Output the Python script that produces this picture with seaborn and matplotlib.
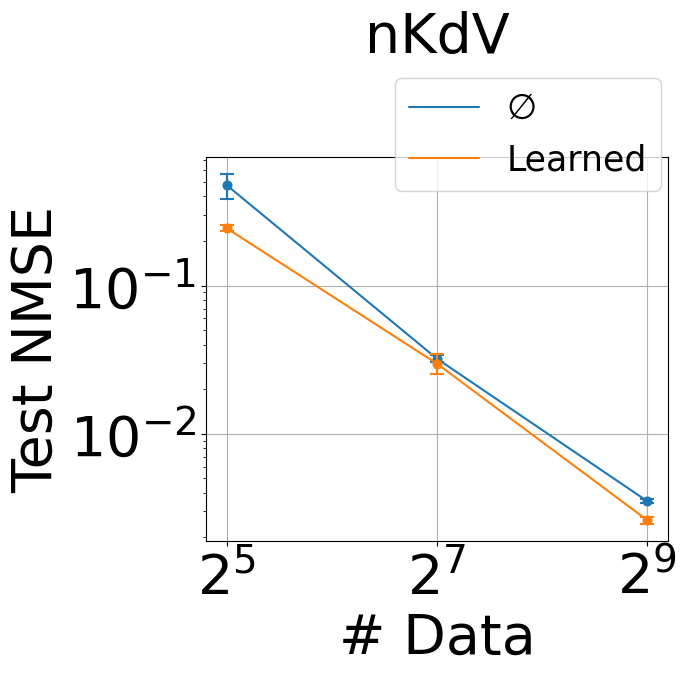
import numpy as np
import pandas as pd
import matplotlib
matplotlib.use("Agg")
import matplotlib.pyplot as plt
import seaborn as sns
from matplotlib.lines import Line2D

# ---- data ----
n_data = [32, 128, 512]
series_names = [r"$\varnothing$", "Learned"]
base_mean = [0.474, 0.0321, 0.00352]
base_lo = [0.381, 0.0303, 0.00340]
base_hi = [0.562, 0.0340, 0.00364]
learned_mean = [0.243, 0.0297, 0.00262]
learned_lo = [0.232, 0.0254, 0.00248]
learned_hi = [0.255, 0.0347, 0.00276]
colors = ["#1f77b4", "#ff7f0e"]

sns.set_style("ticks", rc={
    "axes.edgecolor": "black",
    "axes.labelcolor": "black",
    "text.color": "black",
    "xtick.color": "black",
    "ytick.color": "black",
    "axes.grid": True,
    "grid.color": "#b0b0b0",
    "grid.linewidth": 0.8,
    "xtick.major.size": 3.5,
    "ytick.major.size": 3.5,
    "xtick.minor.size": 2,
    "ytick.minor.size": 2,
    "xtick.major.width": 0.8,
    "ytick.major.width": 0.8,
    "xtick.minor.width": 0.6,
    "ytick.minor.width": 0.6,
    "axes.linewidth": 0.8,
})
plt.rcParams["font.family"] = ["DejaVu Sans"]

fig = plt.figure(figsize=(6.9, 6.76), dpi=100)
W, H = 690, 676
ax = fig.add_axes([206 / W, 1 - 541 / H, (668 - 206) / W, (541 - 157) / H])

df = pd.DataFrame({
    "n": n_data * 2,
    "nmse": base_mean + learned_mean,
    "lo": base_lo + learned_lo,
    "hi": base_hi + learned_hi,
    "method": [series_names[0]] * 3 + [series_names[1]] * 3,
})

for name, c in zip(series_names, colors):
    sub = df[df["method"] == name]
    sns.lineplot(data=sub, x="n", y="nmse", ax=ax, color=c, marker="o",
                 markersize=6.5, markeredgecolor=c, linewidth=1.5, legend=False)
    yerr = np.vstack([sub["nmse"] - sub["lo"], sub["hi"] - sub["nmse"]])
    ax.errorbar(sub["n"], sub["nmse"], yerr=yerr, fmt="none", ecolor=c,
                capsize=5, elinewidth=1.5, capthick=1.5)

ax.set_xscale("log", base=2)
ax.set_yscale("log")
ax.set_xticks(n_data)
ax.set_xticklabels([r"$2^{5}$", r"$2^{7}$", r"$2^{9}$"])
ax.xaxis.set_minor_locator(matplotlib.ticker.NullLocator())
ax.tick_params(axis="both", which="major", labelsize=40)
ax.set_xlabel("# Data", fontsize=40)
ax.set_ylabel("Test NMSE", fontsize=40)
ax.set_title("nKdV", fontsize=40, pad=75)
ax.grid(True, which="major")
ax.grid(False, which="minor")

handles = [Line2D([0], [0], color=c, lw=1.5) for c in colors]
fig.legend(handles, series_names, loc="upper right",
           bbox_to_anchor=(660.7 / W, 1 - 78 / H), bbox_transform=fig.transFigure,
           borderaxespad=0, fontsize=25)

fig.savefig("out.png", dpi=100)
